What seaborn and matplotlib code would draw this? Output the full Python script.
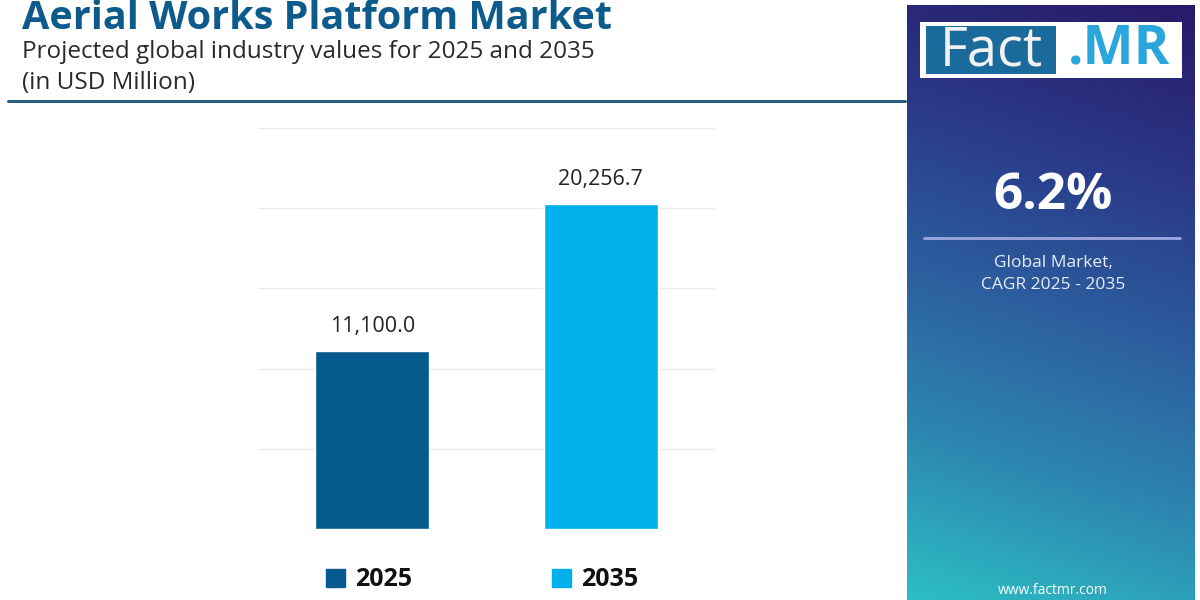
import numpy as np
import pandas as pd
import matplotlib
matplotlib.use('Agg')
import matplotlib.pyplot as plt
import seaborn as sns
from matplotlib.colors import LinearSegmentedColormap
from matplotlib.patches import Rectangle

# chart data
years = ['2025', '2035']
values = [11100.0, 20256.7]
bar_colors = ['#045a8d', '#00b0ea']
cagr_text = '6.2%'

title = 'Aerial Works Platform Market'
subtitle = 'Projected global industry values for 2025 and 2035'
unit_line = '(in USD Million)'

df = pd.DataFrame({'Year': years, 'Value': values})

sns.set_theme(style='white')
plt.rcParams['font.family'] = ['Open Sans', 'DejaVu Sans']

W, H = 1200, 600
fig = plt.figure(figsize=(12, 6), dpi=100)
fig.patch.set_facecolor('white')


def fx(px):
    return px / W


def fy(py):
    return 1 - py / H


# main bar axes
ax = fig.add_axes([fx(258), fy(529), fx(715) - fx(258), fy(128) - fy(529)])
sns.barplot(data=df, x='Year', y='Value', hue='Year', palette=bar_colors,
            width=0.5, ax=ax, legend=False, saturation=1)
ax.set_xlim(-0.5, 1.5)
ax.set_ylim(0, 25000)
ax.set_yticks(np.arange(0, 25001, 5000))
ax.yaxis.grid(True, color='#ececec', lw=1)
ax.set_axisbelow(True)
ax.tick_params(left=False, bottom=False, labelleft=False, labelbottom=False)
ax.set_xlabel('')
ax.set_ylabel('')
for s in ax.spines.values():
    s.set_visible(False)

for i, v in enumerate(values):
    ax.annotate(f'{v:,.1f}', (i, v), xytext=(0, 10), textcoords='offset points',
                ha='center', va='bottom', fontsize=15.5, color='#222222')

# legend
handles = [Rectangle((0, 0), 1, 1, color=c) for c in bar_colors]
leg = fig.legend(handles, years, loc='center', bbox_to_anchor=(fx(482), fy(580)),
                 ncol=2, frameon=False, handlelength=0.75, handleheight=0.75,
                 handletextpad=0.4, columnspacing=5.6,
                 prop={'weight': 'bold', 'size': 18})
for t in leg.get_texts():
    t.set_color('#111111')

# header
fig.text(fx(22), fy(29), title, fontsize=28.5, fontweight='bold', color='#0d5a8c',
         ha='left', va='baseline')
fig.text(fx(22), fy(58), subtitle, fontsize=17.5, color='#2a2a2a', ha='left', va='baseline')
fig.text(fx(22), fy(89), unit_line, fontsize=17.5, color='#2a2a2a', ha='left', va='baseline')
fig.add_artist(plt.Line2D([fx(8), fx(905)], [fy(101), fy(101)], color='#2f5f80', lw=2.2))

# right side panel with gradient
pax = fig.add_axes([fx(907), fy(600), fx(1195) - fx(907), fy(5) - fy(600)])
gy, gx = np.mgrid[0:1:300j, 0:1:150j]
grad = 0.88 * gy + 0.14 * (1 - gx)
grad = (grad - grad.min()) / (grad.max() - grad.min())
cmap = LinearSegmentedColormap.from_list('panel', ['#281a66', '#2a3686', '#2c5c9e', '#2d86b0', '#2cbec4'])
pax.imshow(grad, cmap=cmap, aspect='auto', extent=[0, 1, 0, 1], origin='upper')
pax.set_axis_off()

# logo
fig.patches.append(Rectangle((fx(920), fy(78)), fx(1182) - fx(920), fy(22) - fy(78),
                             transform=fig.transFigure, facecolor='white', edgecolor='none'))
fig.patches.append(Rectangle((fx(926), fy(74)), fx(1056) - fx(926), fy(26) - fy(74),
                             transform=fig.transFigure, facecolor='#1b6a9c', edgecolor='none'))
fig.text(fx(991), fy(51), 'Fact', fontsize=39, color='#f2f2f2', ha='center', va='center')
fig.text(fx(1119), fy(50), '.MR', fontsize=39, fontweight='bold', color='#2aa6dc',
         ha='center', va='center')

fig.text(fx(1053), fy(196), cagr_text, fontsize=37, fontweight='bold', color='white',
         ha='center', va='center')
fig.add_artist(plt.Line2D([fx(924), fx(1180)], [fy(238), fy(238)], color='#9fa8e0', lw=2))
fig.text(fx(1053), fy(263), 'Global Market,', fontsize=12.5, color='#e8ecf4', ha='center', va='center')
fig.text(fx(1053), fy(285), 'CAGR 2025 - 2035', fontsize=12.5, color='#e8ecf4', ha='center', va='center')
fig.text(fx(1053), fy(590), 'www.factmr.com', fontsize=10, color='white', ha='center', va='center')

fig.savefig('out.png', dpi=100)
